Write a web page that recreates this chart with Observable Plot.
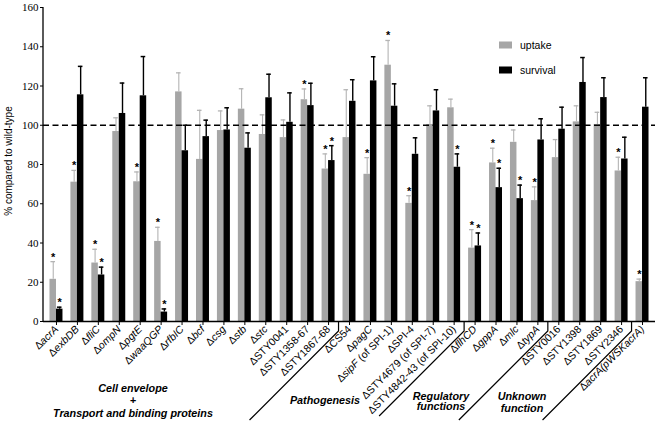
<!DOCTYPE html>
<html><head><meta charset="utf-8">
<script src="https://cdn.jsdelivr.net/npm/d3@7"></script>
<script src="https://cdn.jsdelivr.net/npm/@observablehq/plot@0.6"></script>
<style>body{margin:0;background:#fff}#chart svg{display:block}</style>
</head><body><div id="chart"></div>
<script>
const categories = ["ΔacrA","ΔexbDB","ΔfliC","ΔompN","ΔpgtE","ΔwaaQGP","ΔrfbIC","Δbcf","Δcsg","Δstb",
  "Δstc","ΔSTY0041","ΔSTY1358-67","ΔSTY1867-68","ΔCS54","ΔpagC","ΔsipF (of SPI-1)","ΔSPI-4",
  "ΔSTY4679 (of SPI-7)","ΔSTY4842-43 (of SPI-10)","ΔflhCD","ΔgppA","Δmlc","ΔtypA","ΔSTY0016",
  "ΔSTY1398","ΔSTY1869","ΔSTY2346","ΔacrA(pWSKacrA)"];
const uptake      = [21.5, 71, 29.8, 96.8, 71.2, 40.8, 117, 82.6, 97.3, 108.2, 95.3, 93.7, 113, 77.7, 93.7, 75, 130.6, 60.2, 100.4, 108.9, 37.4, 80.8, 91.3, 61.6, 83.5, 101.7, 100.4, 76.7, 20.3];
const uptakeErr   = [9, 6, 7, 7, 5, 7.2, 9.7, 25, 10, 10.4, 10, 9, 5.5, 7.7, 24.4, 8.5, 12.6, 3.9, 9.5, 4.4, 9.4, 7.5, 6.3, 7, 9.2, 8.2, 6.2, 7, 1.3];
const survival    = [6.3, 115.5, 23.7, 106, 115, 4.8, 87, 94.2, 97.6, 88.3, 114, 101.5, 110, 82, 112.2, 122.6, 109.7, 85.2, 107.3, 78.6, 38.5, 68.2, 62.6, 92.5, 98, 121.8, 114.1, 82.8, 109.2];
const survivalErr = [1, 14.5, 4, 15.5, 20, 1.6, 13, 8.4, 11.3, 7.8, 12, 15, 11.4, 7.6, 11, 12.3, 11.4, 8.4, 10.8, 6.8, 6.6, 9.9, 6.9, 10.8, 11.2, 12.7, 10.1, 11.1, 15];
const uptakeSig   = [1,1,1,0,1,1,0,0,0,0, 0,0,1,1,0,1,1,1,0,0, 1,1,0,1,0,0,0,1,1];
const survivalSig = [1,0,1,0,0,1,0,0,0,0, 0,0,0,1,0,0,0,0,0,1, 1,1,1,0,0,0,0,0,0];
const yTicks = [0,20,40,60,80,100,120,140,160];
const seriesNames = ["uptake","survival"];
const groupBoundaries = [13, 19, 23, 27]; // separator after these category indices
const groupLabels = [["Cell envelope","+","Transport and binding proteins"],["Pathogenesis"],["Regulatory","functions"],["Unknown","function"]];

const GRAY = "#a6a6a6", ERRGRAY = "#b4b4b4";
const SANS = "Liberation Sans, Arial, sans-serif";
const SERIF = "Liberation Serif, Times New Roman, serif";
const rows = categories.map((c,i)=>({cat:c, u:uptake[i], ue:uptakeErr[i], s:survival[i], se:survivalErr[i], us:uptakeSig[i], ss:survivalSig[i]}));
const W = 661, H = 425, ML = 43, MR = 6, MT = 7, MB = 104;
const pI = 0.38, pO = 0.31;
const step = (W-ML-MR)/(categories.length - pI + 2*pO);
const bw = step*(1-pI), half = bw/2, q = half/2, cap = 2.3;

const plot = Plot.plot({
  width: W, height: H, marginLeft: ML, marginRight: MR, marginTop: MT, marginBottom: MB,
  style: {fontFamily: SANS, background: "#fff"},
  x: {type: "band", domain: categories, paddingInner: pI, paddingOuter: pO, round: false},
  y: {domain: [0,160]},
  marks: [
    Plot.barY(rows, {x:"cat", y:"u", fill: GRAY, insetRight: half}),
    Plot.barY(rows, {x:"cat", y:"s", fill: "#000", insetLeft: half}),
    Plot.ruleX(rows, {x:"cat", y1:"u", y2: d=>d.u+d.ue, dx: -q, stroke: ERRGRAY, strokeWidth: 1.1}),
    Plot.tickY(rows, {x:"cat", y: d=>d.u+d.ue, insetLeft: q-cap, insetRight: half+q-cap, stroke: ERRGRAY, strokeWidth: 1.3}),
    Plot.ruleX(rows, {x:"cat", y1:"s", y2: d=>d.s+d.se, dx: q, stroke: "#000", strokeWidth: 1.4}),
    Plot.tickY(rows, {x:"cat", y: d=>d.s+d.se, insetLeft: half+q-cap, insetRight: q-cap, stroke: "#000", strokeWidth: 1.5}),
    Plot.text(rows.filter(d=>d.us), {x:"cat", y: d=>d.u+d.ue, text: ()=>"*", dx: -q, dy: -1, lineAnchor: "bottom", fontSize: 11, fontWeight: "bold", fill: "#000"}),
    Plot.text(rows.filter(d=>d.ss), {x:"cat", y: d=>d.s+d.se, text: ()=>"*", dx: q, dy: -1, lineAnchor: "bottom", fontSize: 11, fontWeight: "bold", fill: "#000"}),
    Plot.ruleY([100], {stroke: "#000", strokeWidth: 1.3, strokeDasharray: "6,3.5"}),
    Plot.ruleY([0], {stroke: "#000", strokeWidth: 1.3}),
    Plot.axisY({ticks: yTicks, tickSize: 3, tickPadding: 2, fontSize: 11, fontFamily: SERIF, label: null}),
    Plot.axisX({tickRotate: -45, tickSize: 4, tickPadding: 2, fontSize: 10.5, label: null})
  ]
});
document.getElementById("chart").appendChild(plot);

const svg = d3.select(plot);
const xs = plot.scale("x"), ys = plot.scale("y");
const y0 = ys.apply(0), yTop = ys.apply(160);
svg.append("line").attr("x1", ML).attr("x2", ML).attr("y1", yTop).attr("y2", y0).attr("stroke","#000").attr("stroke-width",1.3);
svg.selectAll('g[aria-label="y-axis tick label"]').attr("font-family", SERIF).style("font-family", SERIF);

// italic gene names in tick labels
svg.selectAll('g[aria-label="x-axis tick label"] text').each(function(){
  const t = d3.select(this); const s = this.textContent; t.text("");
  const rest = s.slice(1);
  t.append("tspan").text("Δ");
  if (/^(STY|CS|SPI)/.test(rest)) { t.append("tspan").text(rest); return; }
  const i = rest.indexOf(" ");
  if (i < 0) t.append("tspan").attr("font-style","italic").text(rest);
  else { t.append("tspan").attr("font-style","italic").text(rest.slice(0,i)); t.append("tspan").text(rest.slice(i)); }
});

// group separators
const yBreak = y0 + 10;
const ends = [420, 416, 420, 420];
groupBoundaries.forEach((b,k)=>{
  const xa = xs.apply(categories[b]) + xs.bandwidth/2, xb = xs.apply(categories[b+1]) + xs.bandwidth/2;
  const xm = (xa+xb)/2;
  svg.append("path").attr("d", `M${xm},${y0}V${yBreak}L${xm-(ends[k]-yBreak)},${ends[k]}`)
    .attr("fill","none").attr("stroke","#000").attr("stroke-width",1.2);
});
// group labels
const labelPos = [[133,388,12.3],[325,400,0],[441,395.7,10.2],[522,396,11.5]];
groupLabels.forEach((lines,k)=>{
  const [cx,cy,lh] = labelPos[k];
  lines.forEach((l,j)=>svg.append("text").attr("x",cx).attr("y",cy+j*lh).attr("text-anchor","middle")
    .attr("dominant-baseline","central").attr("font-family",SANS)
    .attr("font-size",10.8).attr("font-weight","bold").attr("font-style","italic").text(l));
});
// y title
svg.append("text").attr("transform","translate(8,161) rotate(-90)").attr("text-anchor","middle")
  .attr("dominant-baseline","central").attr("font-size",10).attr("font-family",SANS).text("% compared to wild-type");
// legend
[[GRAY,45],["#000",70]].forEach(([c,y],i)=>{
  svg.append("rect").attr("x",499).attr("y",y-3.5).attr("width",13).attr("height",7).attr("fill",c);
  svg.append("text").attr("x",520).attr("y",y).attr("text-anchor","start").attr("dominant-baseline","central").attr("font-size",10.5)
    .attr("font-family",SANS).text(seriesNames[i]);
});
</script></body></html>
